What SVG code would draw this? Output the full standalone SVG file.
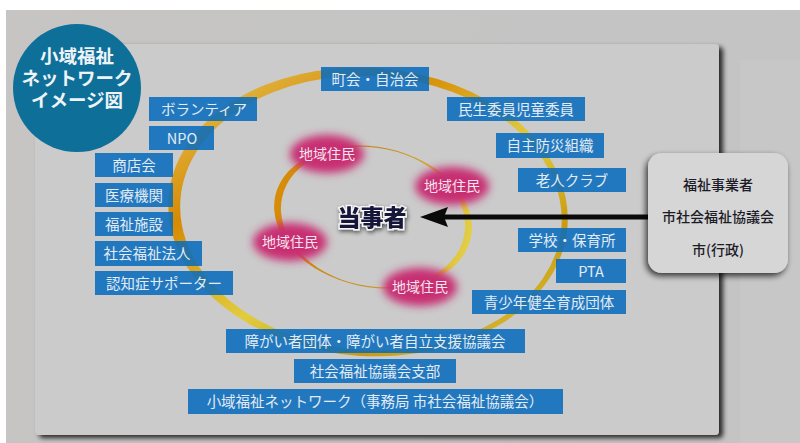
<svg xmlns="http://www.w3.org/2000/svg" width="800" height="443" viewBox="0 0 800 443">
<defs>
<style>
.bx{fill:#0a6cbd;fill-opacity:0.88}
.bt{font-family:"Noto Sans CJK JP","Noto Sans",sans-serif;font-size:14.5px;fill:#e3ebf4;text-anchor:middle}
.rt{font-family:"Noto Sans CJK JP","Noto Sans",sans-serif;font-size:14px;font-weight:500;fill:#1c1c28;text-anchor:middle}
.pt{font-family:"Noto Sans CJK JP","Noto Sans",sans-serif;font-size:14px;fill:#f6e4ee;text-anchor:middle}
.tt{font-family:"Noto Sans CJK JP","Noto Sans",sans-serif;font-size:18.5px;font-weight:700;fill:#eef3f7;text-anchor:middle}
</style>
<filter id="sh" x="-5%" y="-5%" width="115%" height="115%">
<feGaussianBlur in="SourceAlpha" stdDeviation="2.5"/>
<feOffset dx="4" dy="3" result="b"/>
<feComponentTransfer><feFuncA type="linear" slope="0.8"/></feComponentTransfer>
<feMerge><feMergeNode/><feMergeNode in="SourceGraphic"/></feMerge>
</filter>
<filter id="sh2" x="-20%" y="-20%" width="140%" height="140%">
<feGaussianBlur in="SourceAlpha" stdDeviation="3"/>
<feOffset dx="-2" dy="3" result="b"/>
<feComponentTransfer><feFuncA type="linear" slope="0.75"/></feComponentTransfer>
<feMerge><feMergeNode/><feMergeNode in="SourceGraphic"/></feMerge>
</filter>
<filter id="blur" x="-40%" y="-60%" width="180%" height="220%">
<feGaussianBlur stdDeviation="4.5"/>
</filter>
<filter id="glow" x="-20%" y="-40%" width="140%" height="180%">
<feGaussianBlur in="SourceAlpha" stdDeviation="2"/>
<feOffset dx="1" dy="2"/>
<feComponentTransfer><feFuncA type="linear" slope="0.6"/></feComponentTransfer>
<feMerge><feMergeNode/><feMergeNode in="SourceGraphic"/></feMerge>
</filter>
<linearGradient id="gr1" x1="0" y1="0" x2="1" y2="1">
<stop offset="0" stop-color="#e6d26a"/>
<stop offset="0.3" stop-color="#d68a04"/>
<stop offset="0.55" stop-color="#e2cc3e"/>
<stop offset="0.75" stop-color="#c99a10"/>
<stop offset="1" stop-color="#e2cf50"/>
</linearGradient>
<linearGradient id="gr2" x1="0" y1="0" x2="1" y2="0">
<stop offset="0" stop-color="#d88c06"/>
<stop offset="0.5" stop-color="#c88a20"/>
<stop offset="1" stop-color="#e2cf46"/>
</linearGradient>
<linearGradient id="bg" x1="0" y1="0" x2="1" y2="0.3">
<stop offset="0" stop-color="#c6c5c4"/>
<stop offset="1" stop-color="#c4c4c4"/>
</linearGradient>
</defs>

<rect x="0" y="0" width="800" height="443" fill="#ffffff"/>
<rect x="6" y="10" width="794" height="433" fill="url(#bg)"/>
<rect x="740" y="60" width="60" height="383" fill="#c7c7c7"/>

<rect x="35" y="44" width="684" height="391" rx="4" fill="#cbcbcb" filter="url(#sh)"/>

<g id="outer-ring">
<path fill="url(#gr1)" fill-rule="evenodd" transform="rotate(4 368 212)" d="M168,212 a200,144 0 1,0 400,0 a200,144 0 1,0 -400,0 Z M180,213 a191,137 0 1,0 382,0 a191,137 0 1,0 -382,0 Z"/>
</g>

<g id="inner-ring">
<path fill="url(#gr2)" fill-rule="evenodd" transform="rotate(12 373 217)" d="M273,217 a100,70 0 1,0 200,0 a100,70 0 1,0 -200,0 Z M280,217 a93,69 0 1,0 186,0 a93,69 0 1,0 -186,0 Z"/>
</g>

<g id="title">
<circle cx="77" cy="88" r="64" fill="#0e6f99"/>
<text class="tt"><tspan x="77" y="63">小域福祉</tspan><tspan x="77" y="85">ネットワーク</tspan><tspan x="77" y="107">イメージ図</tspan></text>
</g>

<g id="n-chokai"><rect class="bx" x="321" y="67" width="108" height="24"/><text class="bt" x="375" y="84.5">町会・自治会</text></g>
<g id="n-minsei"><rect class="bx" x="447" y="97" width="138" height="24"/><text class="bt" x="516" y="114.5">民生委員児童委員</text></g>
<g id="n-bosai"><rect class="bx" x="496" y="133" width="108" height="25"/><text class="bt" x="550" y="151">自主防災組織</text></g>
<g id="n-rojin"><rect class="bx" x="518" y="168" width="108" height="24"/><text class="bt" x="572" y="185.5">老人クラブ</text></g>
<g id="n-gakko"><rect class="bx" x="518" y="228" width="108" height="24"/><text class="bt" x="572" y="245.5">学校・保育所</text></g>
<g id="n-pta"><rect class="bx" x="556" y="259" width="70" height="24"/><text class="bt" x="591" y="276.5">PTA</text></g>
<g id="n-seishonen"><rect class="bx" x="472" y="290" width="154" height="24"/><text class="bt" x="549" y="307.5">青少年健全育成団体</text></g>
<g id="n-volunteer"><rect class="bx" x="149" y="97" width="108" height="24"/><text class="bt" x="204" y="114.5">ボランティア</text></g>
<g id="n-npo"><rect class="bx" x="149" y="126" width="65" height="24"/><text class="bt" x="182" y="143.5">NPO</text></g>
<g id="n-shoten"><rect class="bx" x="95" y="153" width="78" height="24"/><text class="bt" x="134" y="170.5">商店会</text></g>
<g id="n-iryo"><rect class="bx" x="95" y="183" width="78" height="24"/><text class="bt" x="134" y="200.5">医療機関</text></g>
<g id="n-fukushi"><rect class="bx" x="95" y="212" width="78" height="24"/><text class="bt" x="134" y="229.5">福祉施設</text></g>
<g id="n-hojin"><rect class="bx" x="95" y="241" width="107" height="25"/><text class="bt" x="147" y="259">社会福祉法人</text></g>
<g id="n-ninchi"><rect class="bx" x="95" y="271" width="138" height="24"/><text class="bt" x="164" y="288.5">認知症サポーター</text></g>
<g id="n-shogai"><rect class="bx" x="226" y="329" width="299" height="24"/><text class="bt" x="375" y="346.5">障がい者団体・障がい者自立支援協議会</text></g>
<g id="n-shibu"><rect class="bx" x="294" y="359" width="162" height="24"/><text class="bt" x="375" y="376.5">社会福祉協議会支部</text></g>
<g id="n-network"><rect class="bx" x="188" y="389" width="375" height="25"/><text class="bt" x="375" y="407">小域福祉ネットワーク（事務局 市社会福祉協議会）</text></g>

<g id="residents">
<g id="r1"><ellipse cx="327" cy="154" rx="37" ry="19" fill="#c82d72" filter="url(#blur)"/><text class="pt" x="327" y="159">地域住民</text></g>
<g id="r2"><ellipse cx="452" cy="186" rx="37" ry="19" fill="#c82d72" filter="url(#blur)"/><text class="pt" x="452" y="191">地域住民</text></g>
<g id="r3"><ellipse cx="290" cy="242" rx="37" ry="19" fill="#c82d72" filter="url(#blur)"/><text class="pt" x="290" y="247">地域住民</text></g>
<g id="r4"><ellipse cx="420" cy="287" rx="37" ry="19" fill="#c82d72" filter="url(#blur)"/><text class="pt" x="420" y="292">地域住民</text></g>
</g>

<g id="center">
<text x="372" y="226" font-family="'Noto Sans CJK JP','Noto Sans',sans-serif" font-size="23" font-weight="900" fill="#16163a" stroke="#f4f4f4" stroke-width="3" paint-order="stroke" text-anchor="middle" filter="url(#glow)">当事者</text>
</g>

<g id="connectors">
<line x1="650" y1="217" x2="442" y2="217" stroke="#0a0a0a" stroke-width="5"/>
<polygon points="420,217 448,207 444,217 448,227" fill="#0a0a0a"/>
</g>

<g id="providers">
<rect x="648" y="153" width="140" height="120" rx="14" fill="#d6d6d6" filter="url(#sh2)"/>
<text class="rt" x="718" y="190">福祉事業者</text>
<text class="rt" x="718" y="222">市社会福祉協議会</text>
<text class="rt" x="718" y="255">市(行政)</text>
</g>
</svg>
